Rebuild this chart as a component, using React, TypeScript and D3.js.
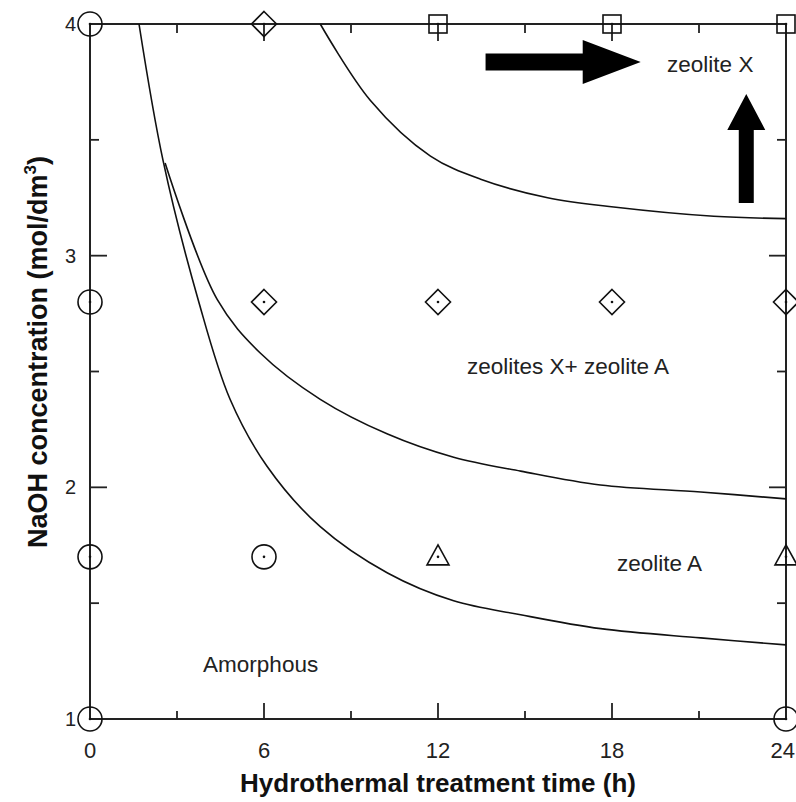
import React from "react";
import * as d3 from "d3";

// ---- data ----
const xTicksMajor = [0, 6, 12, 18, 24];
const xTicksMinor = [3, 9, 15, 21];
const yTicksMajor = [1, 2, 3, 4];
const yTicksMinor = [1.5, 2.5, 3.5];

// boundary curves (time h, NaOH mol/dm3)
const curveAmorphousT = [1.69, 2.52, 3.73, 4.83, 6.11, 7.94, 10.26, 12.54, 14.85, 17.61, 21.06, 24];
const curveAmorphousV = [4.0, 3.41, 2.81, 2.38, 2.09, 1.83, 1.63, 1.51, 1.45, 1.39, 1.35, 1.32];
const curveMixT = [2.59, 4.39, 5.87, 7.94, 10.26, 12.54, 14.85, 17.6, 21.06, 24];
const curveMixV = [3.4, 2.81, 2.58, 2.38, 2.23, 2.13, 2.07, 2.01, 1.98, 1.95];
const curveXT = [7.94, 9.67, 11.74, 13.47, 15.78, 18.06, 21.51, 24];
const curveXV = [4.0, 3.67, 3.43, 3.33, 3.25, 3.21, 3.17, 3.16];

// experimental points
const pointT = [0, 0, 0, 0, 6, 24, 6, 6, 12, 18, 24, 12, 18, 24, 12, 24];
const pointV = [4, 2.8, 1.7, 1, 1.7, 1, 4, 2.8, 2.8, 2.8, 2.8, 4, 4, 4, 1.7, 1.7];
const pointShape = [
  "circle", "circle", "circle", "circle", "circle", "circle",
  "diamond", "diamond", "diamond", "diamond", "diamond",
  "square", "square", "square",
  "triangle", "triangle",
];

// region labels
const labelText = ["zeolite X", "zeolites X+ zeolite A", "zeolite A", "Amorphous"];
const labelT = [19.9, 13.0, 18.17, 3.9];
const labelV = [3.793, 2.489, 1.639, 1.203];

// arrows (data coords)
const hArrowT = [13.64, 18.99];
const hArrowV = 3.836;
const vArrowT = 22.63;
const vArrowV = [3.227, 3.698];

const W = 796;
const H = 802;
const x = d3.scaleLinear().domain([0, 24]).range([90, 786]);
const y = d3.scaleLinear().domain([1, 4]).range([719, 24]);

const FONT = "Liberation Sans, Arial, sans-serif";

function Marker({ t, v, shape }: { t: number; v: number; shape: string }) {
  const cx = x(t);
  const cy = y(v);
  const common = { fill: "none", stroke: "#111", strokeWidth: 1.6 };
  let el: React.ReactNode = null;
  if (shape === "circle") el = <circle cx={cx} cy={cy} r={12} {...common} />;
  else if (shape === "diamond")
    el = (
      <path
        d={`M${cx},${cy - 12.5}L${cx + 12.5},${cy}L${cx},${cy + 12.5}L${cx - 12.5},${cy}Z`}
        {...common}
      />
    );
  else if (shape === "square")
    el = <rect x={cx - 9} y={cy - 9} width={18} height={18} {...common} />;
  else if (shape === "triangle")
    el = (
      <path
        d={`M${cx},${cy - 12}L${cx + 11},${cy + 8}L${cx - 11},${cy + 8}Z`}
        {...common}
      />
    );
  return (
    <g>
      {el}
      <circle cx={cx} cy={cy} r={1.3} fill="#111" />
    </g>
  );
}

export default function App() {
  const line = d3
    .line<[number, number]>()
    .x((d) => x(d[0]))
    .y((d) => y(d[1]))
    .curve(d3.curveCatmullRom.alpha(0.5));
  const curves = [
    curveAmorphousT.map((t, i) => [t, curveAmorphousV[i]] as [number, number]),
    curveMixT.map((t, i) => [t, curveMixV[i]] as [number, number]),
    curveXT.map((t, i) => [t, curveXV[i]] as [number, number]),
  ];
  const [x0, x1] = x.range();
  const [yb, yt] = y.range();
  const axisStroke = { stroke: "#222", strokeWidth: 2 };

  // arrows
  const hx0 = x(hArrowT[0]);
  const hx1 = x(hArrowT[1]);
  const hy = y(hArrowV);
  const hArrow = `M${hx0},${hy - 8.5}L${hx1 - 58},${hy - 8.5}L${hx1 - 58},${hy - 22}L${hx1},${hy}L${hx1 - 58},${hy + 22}L${hx1 - 58},${hy + 8.5}L${hx0},${hy + 8.5}Z`;
  const vx = x(vArrowT);
  const vy0 = y(vArrowV[0]);
  const vy1 = y(vArrowV[1]);
  const vArrow = `M${vx - 7.5},${vy0}L${vx - 7.5},${vy1 + 36}L${vx - 19},${vy1 + 36}L${vx},${vy1}L${vx + 19},${vy1 + 36}L${vx + 7.5},${vy1 + 36}L${vx + 7.5},${vy0}Z`;

  return (
    <svg
      width={W}
      height={H}
      style={{ position: "absolute", left: 0, top: 0, background: "#fff" }}
      fontFamily={FONT}
    >
      <rect width={W} height={H} fill="#fff" />
      {/* frame */}
      <line x1={x0} x2={x1} y1={yb} y2={yb} {...axisStroke} />
      <line x1={x0} x2={x1} y1={yt} y2={yt} {...axisStroke} />
      <line x1={x0} x2={x0} y1={yt} y2={yb} {...axisStroke} />
      <line x1={x1} x2={x1} y1={yt} y2={yb} {...axisStroke} />
      {/* x ticks */}
      {xTicksMajor.map((t, i) => {
        const last = i === xTicksMajor.length - 1;
        return (
          <g key={"xM" + t}>
            <line x1={x(t)} x2={x(t)} y1={yb} y2={yb - 16} stroke="#222" strokeWidth={1.8} />
            <line x1={x(t)} x2={x(t)} y1={yt} y2={yt + 17} stroke="#222" strokeWidth={1.8} />
            <text
              x={last ? W - 1 : x(t)}
              y={758}
              textAnchor={last ? "end" : "middle"}
              fontSize={22}
              fill="#222"
            >
              {t}
            </text>
          </g>
        );
      })}
      {xTicksMinor.map((t) => (
        <g key={"xm" + t}>
          <line x1={x(t)} x2={x(t)} y1={yb} y2={yb - 8} stroke="#222" strokeWidth={1.8} />
          <line x1={x(t)} x2={x(t)} y1={yt} y2={yt + 9} stroke="#222" strokeWidth={1.8} />
        </g>
      ))}
      {/* y ticks */}
      {yTicksMajor.map((v) => (
        <g key={"yM" + v}>
          <line x1={x0} x2={x0 + 17} y1={y(v)} y2={y(v)} stroke="#222" strokeWidth={1.8} />
          <line x1={x1} x2={x1 - 17} y1={y(v)} y2={y(v)} stroke="#222" strokeWidth={1.8} />
          <text x={76} y={y(v) + 7} textAnchor="end" fontSize={20} fill="#222">
            {v}
          </text>
        </g>
      ))}
      {yTicksMinor.map((v) => (
        <g key={"ym" + v}>
          <line x1={x0} x2={x0 + 9} y1={y(v)} y2={y(v)} stroke="#222" strokeWidth={1.8} />
          <line x1={x1} x2={x1 - 9} y1={y(v)} y2={y(v)} stroke="#222" strokeWidth={1.8} />
        </g>
      ))}
      {/* curves */}
      {curves.map((c, i) => (
        <path key={i} d={line(c) || ""} fill="none" stroke="#111" strokeWidth={1.6} />
      ))}
      {/* markers */}
      {pointT.map((t, i) => (
        <Marker key={i} t={t} v={pointV[i]} shape={pointShape[i]} />
      ))}
      {/* arrows */}
      <path d={hArrow} fill="#000" />
      <path d={vArrow} fill="#000" />
      {/* region labels */}
      {labelText.map((s, i) => (
        <text key={s} x={x(labelT[i])} y={y(labelV[i])} fontSize={22.5} fill="#222">
          {s}
        </text>
      ))}
      {/* axis titles */}
      <text
        x={(x0 + x1) / 2}
        y={792}
        textAnchor="middle"
        fontSize={26}
        fontWeight="bold"
        fill="#111"
      >
        Hydrothermal treatment time (h)
      </text>
      <text
        transform={`translate(47, 352) rotate(-90)`}
        textAnchor="middle"
        fontSize={27}
        fontWeight="bold"
        fill="#111"
      >
        NaOH concentration (mol/dm
        <tspan fontSize={17} dy={-11}>
          3
        </tspan>
        <tspan dy={11}>)</tspan>
      </text>
    </svg>
  );
}
